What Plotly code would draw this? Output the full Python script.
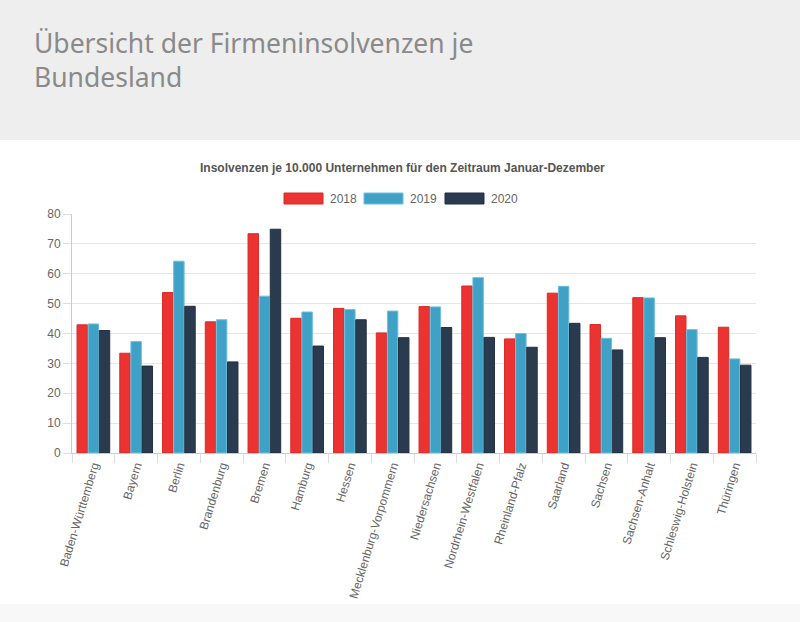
import plotly.graph_objects as go

# data
laender = ["Baden-Württemberg", "Bayern", "Berlin", "Brandenburg", "Bremen", "Hamburg",
           "Hessen", "Mecklenburg-Vorpommern", "Niedersachsen", "Nordrhein-Westfalen",
           "Rheinland-Pfalz", "Saarland", "Sachsen", "Sachsen-Anhalt",
           "Schleswig-Holstein", "Thüringen"]
werte_2018 = [42.9, 33.4, 53.7, 43.9, 73.4, 45.1, 48.4, 40.2, 49.0, 55.9, 38.2, 53.5, 43.0, 52.0, 45.9, 42.1]
werte_2019 = [43.2, 37.3, 64.2, 44.6, 52.5, 47.2, 48.0, 47.5, 48.9, 58.7, 40.0, 55.8, 38.4, 51.9, 41.3, 31.5]
werte_2020 = [41.0, 29.1, 49.1, 30.5, 74.9, 35.8, 44.6, 38.6, 42.0, 38.7, 35.4, 43.4, 34.5, 38.6, 32.0, 29.4]
jahre = ["2018", "2019", "2020"]

farben = ["#eb3431", "#3fa1c6", "#2b3b4f"]
rahmen = ["#d92a27", "#6cc0df", "#22303f"]

W, H = 800, 622
L, R, T, B = 72, 756, 214, 453  # plot area in pixels


def px(x):
    return (x - L) / (R - L)


def py(y):
    return (B - y) / (B - T)


fig = go.Figure()
for jahr, werte, f, r in zip(jahre, [werte_2018, werte_2019, werte_2020], farben, rahmen):
    fig.add_trace(go.Bar(x=laender, y=werte, name=jahr,
                         marker=dict(color=f, line=dict(color=r, width=1)),
                         showlegend=False))

# header band and bottom strip
fig.add_shape(type="rect", xref="paper", yref="paper", layer="below",
              x0=px(0), x1=px(W), y0=py(0), y1=py(140),
              fillcolor="#eeeeee", line_width=0)
fig.add_shape(type="rect", xref="paper", yref="paper", layer="below",
              x0=px(0), x1=px(W), y0=py(604), y1=py(H),
              fillcolor="#f8f8f8", line_width=0)

fig.add_annotation(text="Übersicht der Firmeninsolvenzen je<br>Bundesland",
                   xref="paper", yref="paper", x=px(32), y=py(60),
                   xanchor="left", yanchor="middle", align="left", showarrow=False,
                   font=dict(family="Noto Sans", size=26.5, color="#8a8a8a"))
fig.add_annotation(text="<b>Insolvenzen je 10.000 Unternehmen für den Zeitraum Januar-Dezember</b>",
                   xref="paper", yref="paper", x=px(402), y=py(168),
                   xanchor="center", yanchor="middle", showarrow=False,
                   font=dict(family="Liberation Sans", size=12, color="#555555"))

# legend with wide boxes like the original
leg_x = [284, 364, 445]
for jahr, f, r, x0 in zip(jahre, farben, rahmen, leg_x):
    fig.add_shape(type="rect", xref="paper", yref="paper",
                  x0=px(x0), x1=px(x0 + 39), y0=py(193), y1=py(204),
                  fillcolor=f, line=dict(color=r, width=1))
    fig.add_annotation(text=jahr, xref="paper", yref="paper", x=px(x0 + 44), y=py(198.5),
                       xanchor="left", yanchor="middle", showarrow=False,
                       font=dict(family="Liberation Sans", size=12, color="#666666"))

fig.update_layout(
    width=W, height=H,
    margin=dict(l=L, r=W - R, t=T, b=H - B, pad=0),
    paper_bgcolor="white", plot_bgcolor="white",
    barmode="group", bargap=0.22, bargroupgap=0.06,
    font=dict(family="Liberation Sans", size=12, color="#666666"),
)
fig.update_xaxes(tickangle=-73, tickson="boundaries", ticks="outside", ticklen=9,
                 tickcolor="#dddddd", showgrid=False, showline=True, linecolor="#cccccc",
                 tickfont=dict(size=12, color="#666666"))
fig.update_yaxes(range=[0, 80], dtick=10, ticks="outside", ticklen=8, tickcolor="#dddddd",
                 gridcolor="#e6e6e6", showline=True, linecolor="#cccccc", zeroline=False,
                 tickfont=dict(size=12, color="#666666"))

fig.write_html("out.html", config={"displayModeBar": False},
               post_script="document.body.style.margin='0';")
